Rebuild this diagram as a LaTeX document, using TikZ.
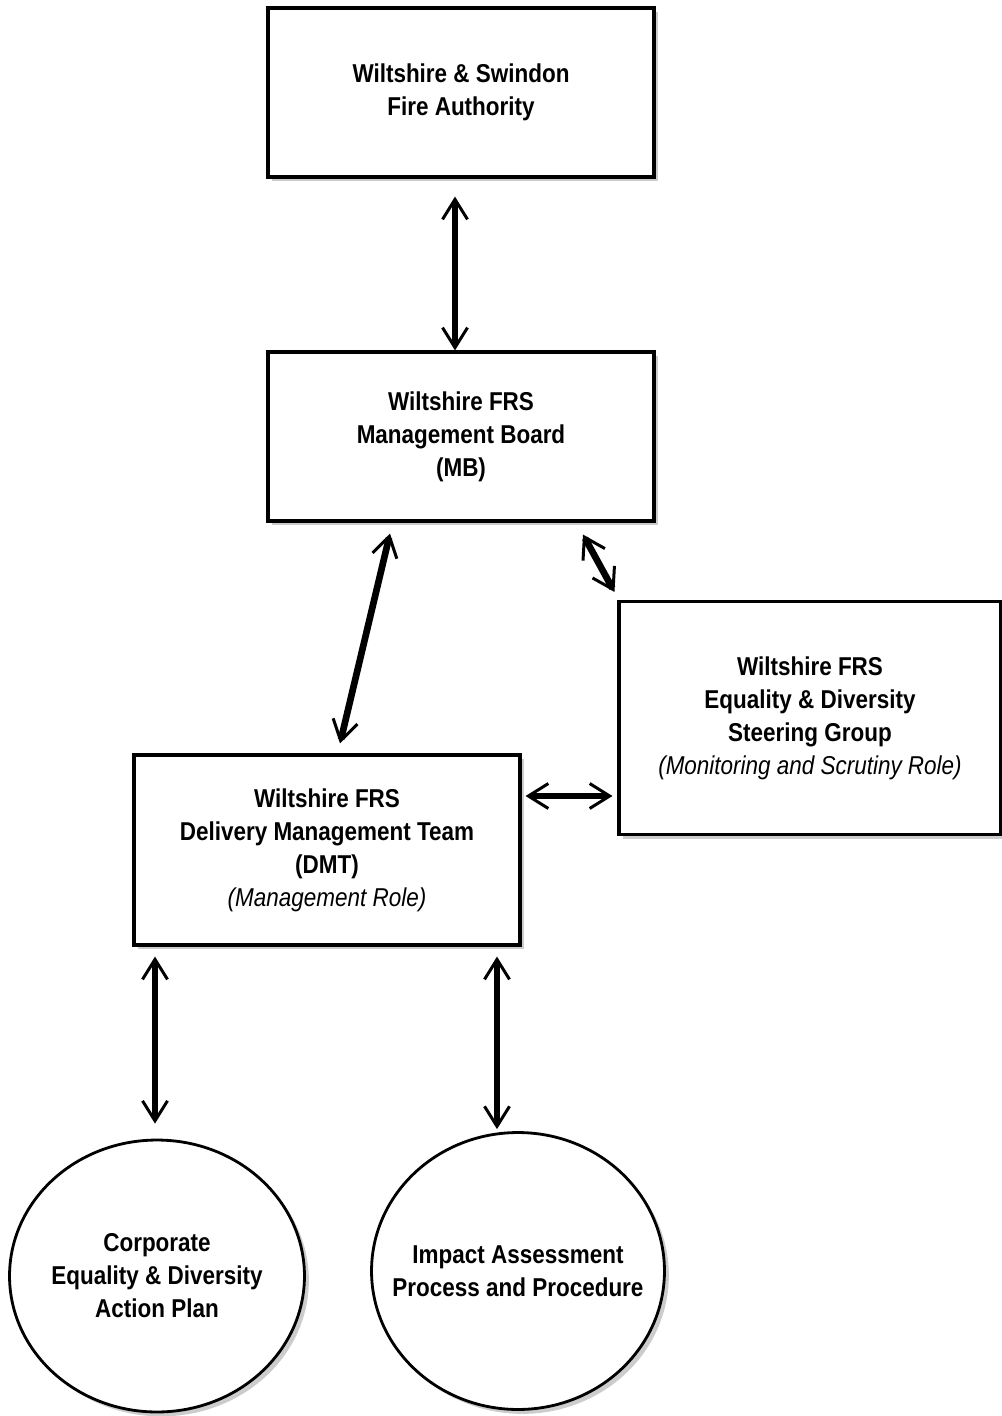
\documentclass[tikz,border=0pt]{standalone}
\usepackage{fontspec}
\setmainfont{Liberation Sans}[FakeStretch=0.87]
\usetikzlibrary{arrows.meta,shadows,calc,shapes.geometric}
\begin{document}
\begin{tikzpicture}[
  x=0.02cm, y=-0.02cm,
  box/.style={rectangle, draw, line width=1.8pt, fill=white, minimum width=7.72cm, align=center,
    font=\bfseries\fontsize{14.7}{18.8}\selectfont,
    drop shadow={shadow xshift=2.5pt, shadow yshift=-2.5pt, fill=black!40}},
  blob/.style={ellipse, draw, line width=1.6pt, fill=white, inner xsep=-1cm, inner ysep=0pt, align=center,
    font=\bfseries\fontsize{14.7}{18.8}\selectfont,
    drop shadow={shadow xshift=2.5pt, shadow yshift=-2.5pt, fill=black!40}},
  link/.style={{Straight Barb[length=4mm,width=5mm,line width=1.7pt]}-{Straight Barb[length=4mm,width=5mm,line width=1.7pt]}, line width=3.8pt}
]
  \useasboundingbox (0,0) rectangle (1001,1416);
  % boxes
  \node[box, minimum height=3.38cm] (fa) at (461,92.5) {Wiltshire \& Swindon\\Fire Authority};
  \node[box, minimum height=3.38cm] (mb) at (461,436.5) {Wiltshire FRS\\Management Board\\(MB)};
  \node[box, minimum width=7.64cm, minimum height=4.66cm] (ed) at (810,718)
    {Wiltshire FRS\\Equality \& Diversity\\Steering Group\\\textmd{\itshape (Monitoring and Scrutiny Role)}};
  \node[box, minimum height=3.8cm] (dmt) at (327,850)
    {Wiltshire FRS\\Delivery Management Team\\(DMT)\\\textmd{\itshape (Management Role)}};
  % circles
  \node[blob, minimum width=5.9cm, minimum height=5.44cm] (plan) at (157,1276)
    {Corporate\\Equality \& Diversity\\Action Plan};
  \node[blob, minimum width=5.86cm, minimum height=5.54cm] (impact) at (518,1271)
    {Impact Assessment\\Process and Procedure};
  % links
  \draw[link] ($(fa.south)+(-6,18)$) -- ($(mb.north)+(-6,0)$);
  \draw[link] ($(mb.south)+(-71,11)$) -- ($(dmt.north)+(13,-10)$);
  \draw[link] ($(mb.south)+(122,12)$) -- ($(ed.north west)+(-3,-8)$);
  \draw[link] ($(dmt.east)+(4,-54)$) -- ($(ed.west)+(-5,78)$);
  \draw[link] ($(dmt.south)+(-172,10)$) -- ($(plan.north)+(-2,-15)$);
  \draw[link] ($(dmt.south)+(170,10)$) -- ($(impact.north)+(-21,-2)$);
\end{tikzpicture}
\end{document}
